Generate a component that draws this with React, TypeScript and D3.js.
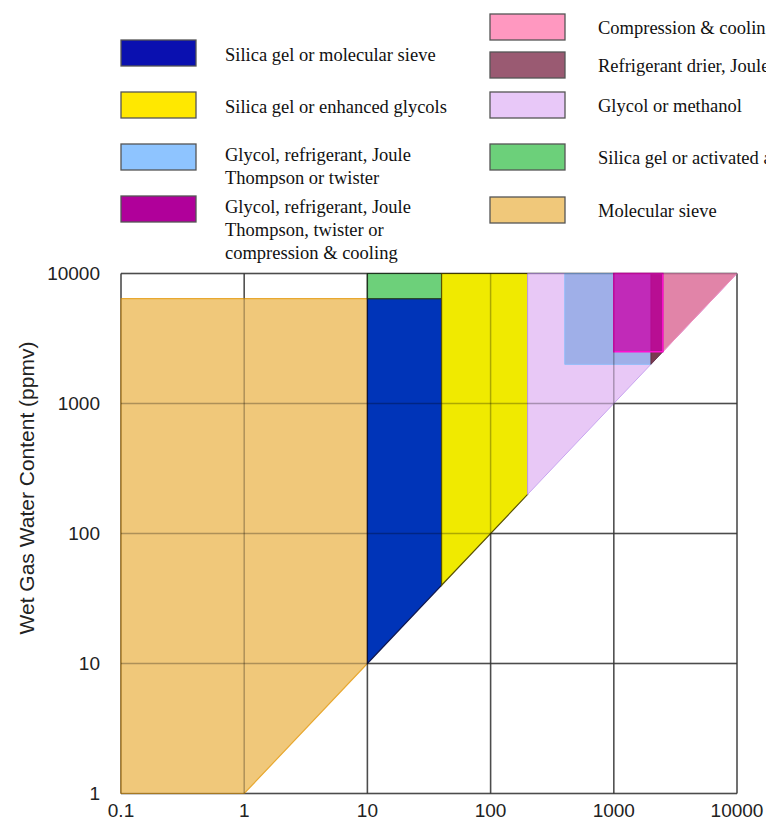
import React from "react";
import * as d3 from "d3";

type Pt = [number, number];

// Axis ticks (log decades)
const xTicks = [0.1, 1, 10, 100, 1000, 10000];
const xTickLabels = ["0.1", "1", "10", "100", "1000", "10000"];
const yTicks = [1, 10, 100, 1000, 10000];
const yTickLabels = ["1", "10", "100", "1000", "10000"];

// Process regions: [product gas water content, wet gas water content] in ppmv
const molecularSieve: Pt[] = [[0.1, 1], [1, 1], [10, 10], [10, 6400], [0.1, 6400]];
const silicaGelMolSieve: Pt[] = [[10, 10], [40, 40], [40, 6400], [10, 6400]];
const silicaGelAlumina: Pt[] = [[10, 6400], [40, 6400], [40, 10000], [10, 10000]];
const silicaGelGlycols: Pt[] = [[40, 40], [200, 200], [200, 10000], [40, 10000]];
const glycolMethanol: Pt[] = [[200, 200], [10000, 10000], [200, 10000]];
const glycolRefrigerant: Pt[] = [[400, 2000], [2000, 2000], [2000, 10000], [400, 10000]];
const compressionCooling: Pt[] = [[2500, 2500], [10000, 10000], [2500, 10000]];
const refrigerantDrier: Pt[] = [[2000, 2000], [2500, 2500], [2500, 10000], [2000, 10000]];
const glycolCompression: Pt[] = [[1000, 2500], [2500, 2500], [2500, 10000], [1000, 10000]];

// Legend entries
const legendLeftLabels = [
  ["Silica gel or molecular sieve"],
  ["Silica gel or enhanced glycols"],
  ["Glycol, refrigerant, Joule", "Thompson or twister"],
  ["Glycol, refrigerant, Joule", "Thompson, twister or", "compression & cooling"],
];
const legendLeftColors = ["#0a10b0", "#ffe800", "#8ec4ff", "#b0009a"];
const legendRightLabels = [
  "Compression & cooling",
  "Refrigerant drier, Joule Thompson",
  "Glycol or methanol",
  "Silica gel or activated alumina",
  "Molecular sieve",
];
const legendRightColors = ["#ff98c0", "#9a5a72", "#e8c8f8", "#6cd07a", "#f0c87a"];

const W = 766;
const H = 822;

export default function App() {
  const x = d3.scaleLog().domain([0.1, 10000]).range([121, 737]);
  const y = d3.scaleLog().domain([1, 10000]).range([793.5, 273.5]);
  const line = d3
    .line<Pt>()
    .x((d) => x(d[0]))
    .y((d) => y(d[1]));
  const path = (pts: Pt[]) => line(pts) + "Z";

  const regions: { pts: Pt[]; fill: string; stroke: string; sw: number; op?: number }[] = [
    { pts: molecularSieve, fill: "#f0c87a", stroke: "#e8a830", sw: 1.2 },
    { pts: silicaGelMolSieve, fill: "#0034b8", stroke: "#101850", sw: 1.2 },
    { pts: silicaGelAlumina, fill: "#6dd07a", stroke: "#2a4a2a", sw: 1.2 },
    { pts: silicaGelGlycols, fill: "#f0ea00", stroke: "#5a5200", sw: 1.2 },
    { pts: glycolMethanol, fill: "#e8c8f6", stroke: "#c8a4f0", sw: 1 },
    { pts: glycolRefrigerant, fill: "#9fafe8", stroke: "#90bcf8", sw: 1 },
    { pts: compressionCooling, fill: "#e184a8", stroke: "#f090c0", sw: 1 },
    { pts: refrigerantDrier, fill: "#7a3a50", stroke: "#5a2a3a", sw: 0.8 },
    { pts: glycolCompression, fill: "#cc00a8", stroke: "#ff10d0", sw: 1.5, op: 0.76 },
  ];

  const [x0, x1] = x.range();
  const [y0, y1] = y.range();

  return (
    <div style={{ position: "absolute", left: 0, top: 0, width: W, height: H, overflow: "hidden", background: "#fff" }}>
      <svg width={W} height={H} style={{ display: "block" }}>
        {/* grid beneath */}
        <g stroke="#6a6a6a" strokeWidth={1.5}>
          {xTicks.map((t) => (
            <line key={"gx" + t} x1={x(t)} x2={x(t)} y1={y0} y2={y1} />
          ))}
          {yTicks.map((t) => (
            <line key={"gy" + t} x1={x0} x2={x1} y1={y(t)} y2={y(t)} />
          ))}
        </g>

        {/* regions */}
        {regions.map((r, i) => (
          <path
            key={i}
            d={path(r.pts)}
            fill={r.fill}
            fillOpacity={r.op ?? 1}
            stroke={r.stroke}
            strokeWidth={r.sw}
            strokeLinejoin="miter"
          />
        ))}

        {/* grid showing through */}
        <g stroke="#000" strokeOpacity={0.28} strokeWidth={1.5}>
          {xTicks.map((t) => (
            <line key={"hx" + t} x1={x(t)} x2={x(t)} y1={y0} y2={y1} />
          ))}
          {yTicks.map((t) => (
            <line key={"hy" + t} x1={x0} x2={x1} y1={y(t)} y2={y(t)} />
          ))}
        </g>

        {/* tick labels */}
        <g fontFamily="Liberation Sans, Arial, sans-serif" fontSize={19} fill="#222">
          {xTicks.map((t, i) => (
            <text key={"tx" + t} x={x(t)} y={817} textAnchor="middle">
              {xTickLabels[i]}
            </text>
          ))}
          {yTicks.map((t, i) => (
            <text key={"ty" + t} x={100} y={y(t)} dy="0.35em" textAnchor="end">
              {yTickLabels[i]}
            </text>
          ))}
        </g>

        <text
          transform="translate(34,488) rotate(-90)"
          textAnchor="middle"
          fontFamily="Liberation Sans, Arial, sans-serif"
          fontSize={21}
          fill="#222"
        >
          Wet Gas Water Content (ppmv)
        </text>

        {/* legend, left column */}
        <g fontFamily="Liberation Serif, Times New Roman, serif" fontSize={18.5} fill="#111">
          {legendLeftLabels.map((lines, i) => {
            const top = 40 + i * 52;
            const multi = lines.length > 1;
            return (
              <g key={"ll" + i}>
                <rect x={121} y={top} width={75} height={26} fill={legendLeftColors[i]} stroke="#555" strokeWidth={1.3} />
                {lines.map((s, j) => (
                  <text key={j} x={225} y={top + (multi ? 17 : 21) + j * 23}>
                    {s}
                  </text>
                ))}
              </g>
            );
          })}
          {/* legend, right column (runs past the right edge) */}
          {legendRightLabels.map((s, i) => {
            const tops = [14, 52, 92, 144, 197];
            const top = tops[i];
            return (
              <g key={"lr" + i}>
                <rect x={490} y={top} width={75} height={26} fill={legendRightColors[i]} stroke="#555" strokeWidth={1.3} />
                <text x={598} y={top + 20}>
                  {s}
                </text>
              </g>
            );
          })}
        </g>
      </svg>
    </div>
  );
}
